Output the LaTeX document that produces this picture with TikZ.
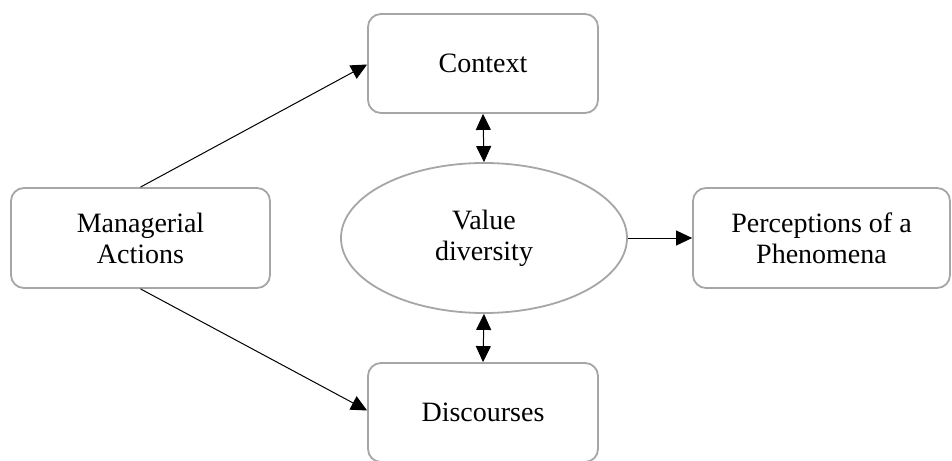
\documentclass[tikz,border=0pt]{standalone}
\usepackage{fontspec}
\setmainfont{Liberation Serif}
\usetikzlibrary{shapes.geometric,arrows.meta}
\tikzset{
  box/.style={draw=black!35, line width=1.8pt, rounded corners=13pt, fill=white,
    align=center, inner sep=0pt, font=\fontsize{28}{31}\selectfont},
  oval/.style={ellipse, draw=black!35, line width=1.8pt, fill=white,
    align=center, inner sep=0pt, font=\fontsize{28}{31}\selectfont},
  link/.style={draw=black, line width=1pt, -{Triangle[length=16pt,width=15pt]}},
  both/.style={draw=black, line width=1pt, {Triangle[length=16pt,width=15pt]}-{Triangle[length=16pt,width=15pt]}}
}
\begin{document}
\begin{tikzpicture}[x=1pt,y=-1pt]
\useasboundingbox (0,0) rectangle (952,460);
\fill[white] (0,0) rectangle (952,460);

% boxes and the central ellipse
\node[box, minimum width=230pt, minimum height=99pt] (ctx) at (483,63.5) {Context};
\node[box, minimum width=230pt, minimum height=99pt] (disc) at (483,412.5) {Discourses};
\node[box, minimum width=259pt, minimum height=100pt] (man) at (140.5,238) {Managerial\\Actions};
\node[box, minimum width=257pt, minimum height=100pt] (per) at (821.5,238) {Perceptions of a\\Phenomena};
\node[oval, minimum width=286pt, minimum height=150pt] (val) at (484,238) {Value\\diversity};

% connectors
\draw[link] (man.north) -- ([yshift=-1pt]ctx.west);
\draw[link] (man.south) -- ([yshift=2pt]disc.west);
\draw[both] (ctx.south) -- (val.north);
\draw[both] (val.south) -- (disc.north);
\draw[link] (val.east) -- (per.west);
\end{tikzpicture}
\end{document}
